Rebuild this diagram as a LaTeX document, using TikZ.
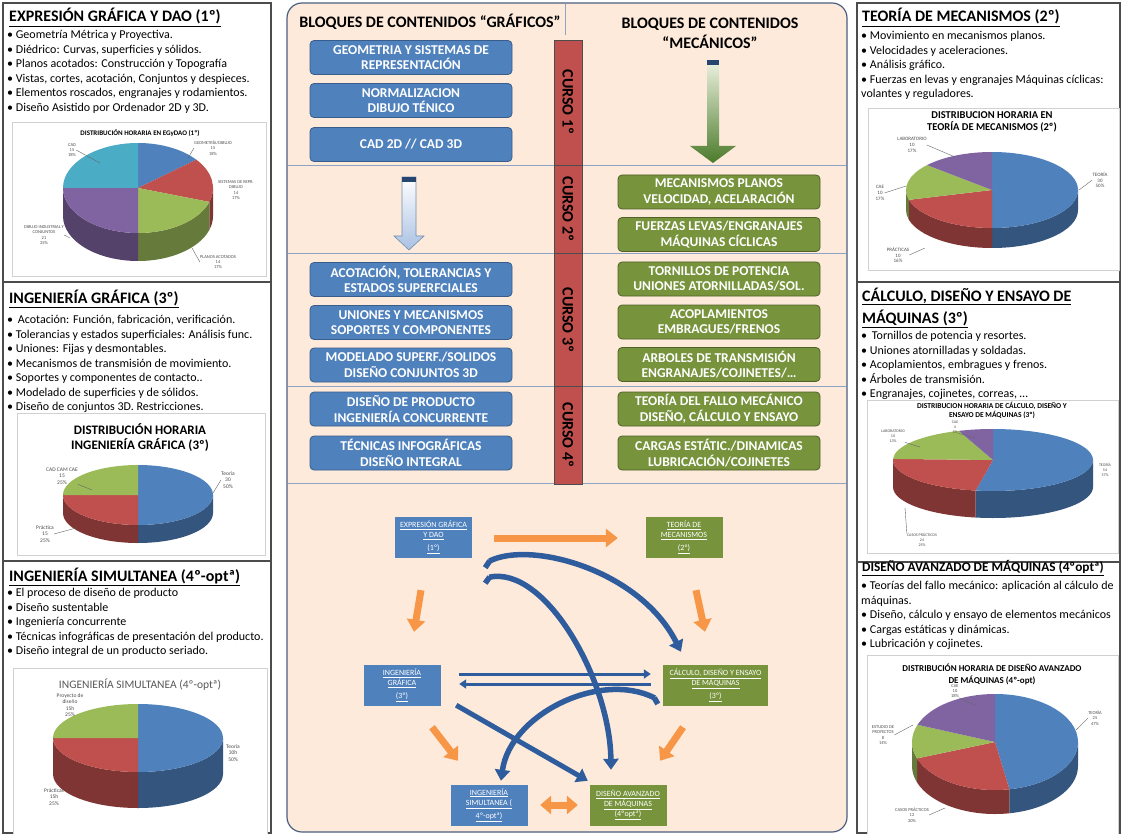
\documentclass[tikz,border=0pt]{standalone}
\usepackage{fontspec}
\setmainfont{Carlito}
\usetikzlibrary{arrows.meta}
\definecolor{gblue}{HTML}{4F81BD}
\definecolor{gblueb}{HTML}{385D8A}
\definecolor{ggreen}{HTML}{77933C}
\definecolor{ggreenb}{HTML}{4F6228}
\definecolor{peach}{HTML}{FDEADA}
\definecolor{pblue}{HTML}{4F81BD}
\definecolor{pred}{HTML}{C0504D}
\definecolor{pgreen}{HTML}{9BBB59}
\definecolor{ppurple}{HTML}{8064A2}
\definecolor{pcyan}{HTML}{4BACC6}
\definecolor{orng}{HTML}{F79646}
\definecolor{arrblue}{HTML}{2F5C9C}
\definecolor{divline}{HTML}{8FA4C4}
\definecolor{cborder}{HTML}{4A5F80}
\definecolor{barred}{HTML}{C0504D}
\definecolor{darkgreenarr}{HTML}{4B7A2A}
\definecolor{lightgreenarr}{HTML}{EEF3E2}
\definecolor{lightbluearr}{HTML}{A9C1E2}
\definecolor{capblue}{HTML}{27466F}

\newcommand{\pwall}[8]{%
  \pgfmathsetmacro{\pwa}{max(#6,0)}%
  \pgfmathsetmacro{\pwb}{min(#7,180)}%
  \ifdim\pwb pt>\pwa pt\relax
    \fill[fill=#8!66!black] ([shift={(#1,#2)}]\pwa:#3 and #4) arc[start angle=\pwa, end angle=\pwb, x radius=#3, y radius=#4] -- ++(0,#5) arc[start angle=\pwb, end angle=\pwa, x radius=#3, y radius=#4] -- cycle;
  \fi}
\newcommand{\ptop}[8]{%
  \fill[fill=#8] (#1,#2) -- ([shift={(#1,#2)}]#6:#3 and #4) arc[start angle=#6, end angle=#7, x radius=#3, y radius=#4] -- cycle;}
\newcommand{\drawpie}[6]{%
  \foreach \sa/\sb/\sc in {#6}{\pwall{#1}{#2}{#3}{#4}{#5}{\sa}{\sb}{\sc}}%
  \foreach \sa/\sb/\sc in {#6}{\ptop{#1}{#2}{#3}{#4}{#5}{\sa}{\sb}{\sc}}}

\begin{document}
\begin{tikzpicture}[x=1pt,y=-1pt,
  panel/.style={draw=black!70, line width=1.2pt},
  chartbox/.style={draw=black!18, fill=white, line width=0.6pt},
  ttl/.style={font=\fontsize{16}{22}\selectfont\bfseries, inner sep=0pt, anchor=base west},
  body/.style={font=\fontsize{12}{14.5}\selectfont, inner sep=0pt, anchor=north west, align=left},
  mbox/.style={rounded corners=4pt, line width=0.8pt, text=white, font=\fontsize{13.5}{15.7}\selectfont\bfseries, align=center, minimum width=202pt, minimum height=34pt, inner sep=0pt},
  bbox/.style={mbox, fill=gblue, draw=gblueb},
  gbox/.style={mbox, fill=ggreen, draw=ggreenb},
  fbox/.style={text=white, font=\fontsize{8}{10}\selectfont, align=center, minimum height=41pt, inner sep=0pt, minimum width=77pt},
  fblue/.style={fbox, fill=gblue},
  fgreen/.style={fbox, fill=ggreen},
  oarr/.style={orng, line width=7pt, -{Triangle[width=18pt,length=12pt]}},
  barr/.style={arrblue, line width=5.5pt, -{Triangle[width=15pt,length=11pt]}},
  btail/.style={arrblue, line width=5.5pt},
  plab/.style={text=black!70, align=center, inner sep=0pt},
  lead/.style={black!60, line width=0.4pt},
  ctitle/.style={align=center, inner sep=0pt},
  curso/.style={rotate=-90, font=\fontsize{16}{16}\selectfont\bfseries, inner sep=0pt},
]
\useasboundingbox (0,0) rectangle (1121,834);
\fill[white] (0,0) rectangle (1121,834);

% ================= LEFT COLUMN =================
\draw[panel] (3,3) rectangle (271,282);
\draw[panel] (3,282) rectangle (271,561);
\draw[panel] (3,561) rectangle (271,833);

\node[ttl] (t1) at (9,22) {\underline{EXPRESIÓN GRÁFICA Y DAO (1º)}};
\node[body] (b1) at (7,28.5) {\rule{0pt}{10pt}• Geometría Métrica y Proyectiva.\\• Diédrico: Curvas, superficies y sólidos.\\• Planos acotados: Construcción y Topografía\\• Vistas, cortes, acotación, Conjuntos y despieces.\\• Elementos roscados, engranajes y rodamientos.\\• Diseño Asistido por Ordenador 2D y 3D.};

\draw[chartbox] (12,122) rectangle (266,276);
\node[ctitle, font=\fontsize{7}{8}\selectfont\bfseries] (c1t) at (140,133) {DISTRIBUCIÓN HORARIA EN EGyDAO (1º)};
\drawpie{138}{188}{75}{45}{28}{-90/-39/pblue,-39/18/pred,18/90/pgreen,90/180/ppurple,180/270/pcyan}
\node[plab, font=\fontsize{4.5}{5.2}\selectfont] (l11) at (72,150) {CAD\\15\\18\%};
\node[plab, font=\fontsize{4.5}{5.2}\selectfont] (l12) at (213,148) {GEOMETRÍA/DIBUJO\\15\\18\%};
\node[plab, font=\fontsize{4.5}{5.2}\selectfont] (l13) at (236,190) {SISTEMAS DE REPR.\\DIBUJO\\14\\17\%};
\node[plab, font=\fontsize{4.5}{5.2}\selectfont] (l14) at (218,262) {PLANOS ACOTADOS\\14\\17\%};
\node[plab, font=\fontsize{4.5}{5.2}\selectfont] (l15) at (44,235) {DIBUJO INDUSTRIAL Y\\CONJUNTOS\\21\\25\%};
\draw[lead] (l11.east) -- (100,163);
\draw[lead] (l12.west) -- (188,158);
\draw[lead] (l14.west) -- (192,248);
\draw[lead] (l15.east) -- (70,238);

\node[ttl] (t2) at (9,303) {\underline{INGENIERÍA GRÁFICA (3º)}};
\node[body] (b2) at (7,313.5) {\rule{0pt}{10pt}•\, Acotación: Función, fabricación, verificación.\\• Tolerancias y estados superficiales: Análisis func.\\• Uniones: Fijas y desmontables.\\• Mecanismos de transmisión de movimiento.\\• Soportes y componentes de contacto..\\• Modelado de superficies y de sólidos.\\• Diseño de conjuntos 3D. Restricciones.};

\draw[chartbox] (17,413) rectangle (265,555);
\node[ctitle, font=\fontsize{13}{15}\selectfont\bfseries] (c2t) at (140,438) {DISTRIBUCIÓN HORARIA\\INGENIERÍA GRÁFICA (3º)};
\drawpie{138}{495}{75}{30}{18}{-90/90/pblue,90/180/pred,180/270/pgreen}
\node[plab, font=\fontsize{5.5}{6.3}\selectfont] (l21) at (228,480) {Teoría\\30\\50\%};
\node[plab, font=\fontsize{5.5}{6.3}\selectfont] (l22) at (62,476) {CAD CAM CAE\\15\\25\%};
\node[plab, font=\fontsize{5.5}{6.3}\selectfont] (l23) at (45,534) {Práctica\\15\\25\%};
\draw[lead] (l21.west) -- (213,493);
\draw[lead] (l22.south east) -- (92,490);
\draw[lead] (l23.east) -- (76,528);

\node[ttl] (t3) at (9,581) {\underline{INGENIERÍA SIMULTANEA (4º-optª)}};
\node[body] (b3) at (7,586.5) {\rule{0pt}{10pt}• El proceso de diseño de producto\\• Diseño sustentable\\• Ingeniería concurrente\\• Técnicas infográficas de presentación del producto.\\• Diseño integral de un producto seriado.};

\draw[chartbox] (13,668) rectangle (267,834);
\node[ctitle, font=\fontsize{11.5}{13}\selectfont, text=black!65] (c3t) at (140,685) {INGENIERÍA SIMULTANEA (4º-optª)};
\drawpie{138}{738}{85}{34}{36}{-90/90/pblue,90/180/pred,180/270/pgreen}
\node[plab, font=\fontsize{5.5}{6.3}\selectfont] (l31) at (70,705) {Proyecto de\\diseño\\15h\\25\%};
\node[plab, font=\fontsize{5.5}{6.3}\selectfont] (l32) at (233,753) {Teoría\\30h\\50\%};
\node[plab, font=\fontsize{5.5}{6.3}\selectfont] (l33) at (54,797) {Prácticas\\15h\\25\%};

% ================= CENTRE =================
\draw[cborder, fill=peach, line width=1.2pt, rounded corners=15pt] (287,3) rectangle (847,832);
\foreach \yy in {165,253,386,483} \draw[divline, line width=0.9pt] (288,\yy) -- (846,\yy);
\draw[divline, line width=0.9pt] (565,4) -- (565,35);

\node[font=\fontsize{16}{20}\selectfont\bfseries, inner sep=0pt] (h1) at (430,22) {BLOQUES DE CONTENIDOS “GRÁFICOS”};
\node[font=\fontsize{16}{20}\selectfont\bfseries, inner sep=0pt, align=center] (h2) at (710,33) {BLOQUES DE CONTENIDOS\\“MECÁNICOS”};

% course bar
\draw[fill=barred, draw=black!70, line width=0.8pt] (554,40) rectangle (582,165);
\draw[fill=barred, draw=black!70, line width=0.8pt] (554,165) rectangle (582,253);
\draw[fill=barred, draw=black!70, line width=0.8pt] (554,253) rectangle (582,386);
\draw[fill=barred, draw=black!70, line width=0.8pt] (554,386) rectangle (582,484);
\node[curso] (k1) at (568,102) {CURSO 1º};
\node[curso] (k2) at (568,209) {CURSO 2º};
\node[curso] (k3) at (568,320) {CURSO 3º};
\node[curso] (k4) at (568,435) {CURSO 4º};

% blue content boxes
\node[bbox] (g1) at (411,57.5) {GEOMETRIA Y SISTEMAS DE\\REPRESENTACIÓN};
\node[bbox] (g2) at (411,100.5) {NORMALIZACION\\DIBUJO TÉNICO};
\node[bbox] (g3) at (411,144.5) {CAD 2D // CAD 3D};
\node[bbox] (g4) at (411,279.5) {ACOTACIÓN, TOLERANCIAS Y\\ESTADOS SUPERFCIALES};
\node[bbox] (g5) at (411,322.5) {UNIONES Y MECANISMOS\\SOPORTES Y COMPONENTES};
\node[bbox] (g6) at (411,365) {MODELADO SUPERF./SOLIDOS\\DISEÑO CONJUNTOS 3D};
\node[bbox] (g7) at (411,409) {DISEÑO DE PRODUCTO\\INGENIERÍA CONCURRENTE};
\node[bbox] (g8) at (411,453) {TÉCNICAS INFOGRÁFICAS\\DISEÑO INTEGRAL};

% green content boxes
\node[gbox] (m1) at (719,192) {MECANISMOS PLANOS\\VELOCIDAD, ACELARACIÓN};
\node[gbox] (m2) at (719,234.5) {FUERZAS LEVAS/ENGRANAJES\\MÁQUINAS CÍCLICAS};
\node[gbox] (m3) at (719,279) {TORNILLOS DE POTENCIA\\UNIONES ATORNILLADAS/SOL.};
\node[gbox] (m4) at (719,322) {ACOPLAMIENTOS\\EMBRAGUES/FRENOS};
\node[gbox] (m5) at (719,364.5) {ARBOLES DE TRANSMISIÓN\\ENGRANAJES/COJINETES/…};
\node[gbox] (m6) at (719,409) {TEORÍA DEL FALLO MECÁNICO\\DISEÑO, CÁLCULO Y ENSAYO};
\node[gbox] (m7) at (719,453) {CARGAS ESTÁTIC./DINAMICAS\\LUBRICACIÓN/COJINETES};

% block arrows in course rows
\shade[top color=lightgreenarr, bottom color=darkgreenarr] (707,60) -- (719,60) -- (719,146) -- (736,146) -- (713,163) -- (690,146) -- (707,146) -- cycle;
\fill[capblue] (707,60) rectangle (719,65);
\shade[top color=white, bottom color=lightbluearr, draw=gblueb!70, line width=0.6pt] (402,177) -- (416,177) -- (416,236) -- (424,236) -- (409,250) -- (394,236) -- (402,236) -- cycle;
\fill[capblue] (402,177) rectangle (416,182);

% flow boxes
\node[fblue] (f1) at (433.5,537) {\underline{EXPRESIÓN GRÁFICA}\\\underline{Y DAO}\\[3pt]\underline{(1º)}};
\node[fgreen] (f2) at (684,537) {\underline{TEORÍA DE}\\\underline{MECANISMOS}\\[3pt]\underline{(2º)}};
\node[fblue] (f3) at (402,685.5) {\underline{INGENIERÍA}\\\underline{GRÁFICA}\\[3pt]\underline{(3º)}};
\node[fgreen, minimum width=105pt] (f4) at (715.5,685.5) {\underline{CÁLCULO, DISEÑO Y ENSAYO}\\\underline{DE MÁQUINAS}\\[3pt]\underline{(3º)}};
\node[fblue] (f5) at (489,805) {\underline{INGENIERÍA}\\\underline{SIMULTANEA (}\\[3pt]\underline{4º-optª)}};
\node[fgreen] (f6) at (628,805) {\underline{DISEÑO AVANZADO}\\\underline{DE MÁQUINAS}\\\underline{(4ºoptª)}};

% orange arrows
\draw[oarr] ([shift={(22,1)}]f1.east) -- ([shift={(-27.5,1)}]f2.west);
\draw[oarr] ([shift={(-12.5,32.5)}]f1.south) -- ([shift={(12,-33)}]f3.north);
\draw[oarr] ([shift={(12,32.5)}]f2.south) -- ([shift={(-10.5,-33)}]f4.north);
\draw[oarr] ([shift={(30,21)}]f3.south) -- ([shift={(-31,-23.5)}]f5.north);
\draw[oarr] ([shift={(-32.5,21)}]f4.south) -- ([shift={(32,-23.5)}]f6.north);
\draw[orng, line width=7pt, {Triangle[width=18pt,length=11pt]}-{Triangle[width=18pt,length=11pt]}] ([shift={(12.5,0)}]f5.east) -- ([shift={(-11.5,0)}]f6.west);

% blue arrows
\draw[barr] ([shift={(17,3.5)}]f1.south east) .. controls +(41,-21) and +(-41,-82) .. ([shift={(-34.5,-13)}]f4.north);
\draw[btail] ([shift={(17.5,3.2)}]f1.south east) -- ([shift={(13,10)}]f1.south east);
\draw[barr] ([shift={(17,19.5)}]f1.south east) .. controls +(56,-12) and +(-1,-90) .. ([shift={(-17,-14.5)}]f6.north);
\draw[btail] ([shift={(17.5,19.3)}]f1.south east) -- ([shift={(13,25.5)}]f1.south east);
\draw[arrblue, line width=3pt, -{Triangle[width=9pt,length=7pt]}] ([shift={(18.5,-11.5)}]f3.east) -- ([shift={(-12,-11.5)}]f4.west);
\draw[arrblue, line width=3pt, -{Triangle[width=9pt,length=7pt]}] ([shift={(-12,-1.5)}]f4.west) -- ([shift={(18.5,-1.5)}]f3.east);
\draw[barr, line width=5pt] ([shift={(15.5,-1)}]f3.south east) -- ([shift={(-1.5,-3.5)}]f6.north west);
\draw[barr] ([shift={(-8,12.5)}]f4.west) .. controls +(-55,-28) and +(9,-66) .. ([shift={(12,-3.5)}]f5.north);
\draw[btail] ([shift={(-8.5,12.3)}]f4.west) -- ([shift={(-5,18.5)}]f4.west);

% ================= RIGHT COLUMN =================
\draw[panel] (857,3) rectangle (1120,282);
\draw[panel] (857,282) rectangle (1120,562);
\draw[panel] (857,562) rectangle (1120,833);

\node[ttl] (rt1) at (862,22) {\underline{TEORÍA DE MECANISMOS (2º)}};
\node[body] (rb1) at (861,29.5) {\rule{0pt}{10pt}• Movimiento en mecanismos planos.\\• Velocidades y aceleraciones.\\• Análisis gráfico.\\• Fuerzas en levas y engranajes Máquinas cíclicas:\\volantes y reguladores.};

\draw[chartbox] (868,108) rectangle (1119,270);
\node[ctitle, font=\fontsize{10.5}{12}\selectfont\bfseries] (c4t) at (992,122) {DISTRIBUCION HORARIA EN\\TEORÍA DE MECANISMOS (2º)};
\drawpie{992}{190}{86}{38}{20}{-90/90/pblue,90/165/pred,165/221/pgreen,221/270/ppurple}
\node[plab, font=\fontsize{5}{5.8}\selectfont] (l41) at (912,145) {LABORATORIO\\10\\17\%};
\node[plab, font=\fontsize{5}{5.8}\selectfont] (l42) at (880,193) {CAE\\10\\17\%};
\node[plab, font=\fontsize{5}{5.8}\selectfont] (l43) at (1100,180) {TEORÍA\\30\\50\%};
\node[plab, font=\fontsize{5}{5.8}\selectfont] (l44) at (898,255) {PRÁCTICAS\\10\\16\%};
\draw[lead] (l41.east) -- (955,157);
\draw[lead] (l42.east) -- (906,186);
\draw[lead] (l43.west) -- (1079,190);
\draw[lead] (l44.east) -- (925,248);

\node[ttl] (rt2a) at (862,301) {\underline{CÁLCULO, DISEÑO Y ENSAYO DE}};
\node[ttl] (rt2b) at (862,323) {\underline{MÁQUINAS (3º)}};
\node[body] (rb2) at (861,329.5) {\rule{0pt}{10pt}•\, Tornillos de potencia y resortes.\\• Uniones atornilladas y soldadas.\\• Acoplamientos, embragues y frenos.\\• Árboles de transmisión.\\• Engranajes, cojinetes, correas, …};

\draw[chartbox] (867,400) rectangle (1118,553);
\node[ctitle, font=\fontsize{7.5}{9}\selectfont\bfseries] (c5t) at (992,410) {DISTRIBUCION HORARIA DE CÁLCULO, DISEÑO Y\\ENSAYO DE MÁQUINAS (3º)};
\drawpie{993}{460}{100}{31}{27}{-90/100/pblue,100/182/pred,182/250/pgreen,250/270/ppurple}
\node[plab, font=\fontsize{4}{4.8}\selectfont] (l51) at (893,436) {LABORATORIO\\10\\13\%};
\node[plab, font=\fontsize{4}{4.8}\selectfont] (l52) at (955,427) {CAE\\4\\5\%};
\node[plab, font=\fontsize{4}{4.8}\selectfont] (l53) at (1105,470) {TEORÍA\\54\\57\%};
\node[plab, font=\fontsize{4}{4.8}\selectfont] (l54) at (922,540) {CASOS PRÁCTICOS\\24\\25\%};
\draw[lead] (l51.south east) -- (920,447);
\draw[lead] (l52.south east) -- (975,438);
\draw[lead] (l54.north west) -- (905,508);

\node[ttl, font=\fontsize{13.3}{17}\selectfont\bfseries] (rt3) at (862,571.5) {\underline{DISEÑO AVANZADO DE MÁQUINAS (4ºoptª)}};
\node[body] (rb3) at (861,579.5) {\rule{0pt}{10pt}• Teorías del fallo mecánico: aplicación al cálculo de\\máquinas.\\• Diseño, cálculo y ensayo de elementos mecánicos\\• Cargas estáticas y dinámicas.\\• Lubricación y cojinetes.};

\draw[chartbox] (867,655) rectangle (1118,834);
\node[ctitle, font=\fontsize{9}{12.5}\selectfont\bfseries] (c6t) at (992,674.5) {DISTRIBUCIÓN HORARIA DE DISEÑO AVANZADO\\DE MÁQUINAS (4º-opt)};
\drawpie{995}{742}{83}{48}{24}{-90/80/pblue,80/160/pred,160/201/pgreen,201/270/ppurple}
\node[plab, font=\fontsize{4.5}{5.2}\selectfont] (l61) at (955,691) {CAE\\10\\18\%};
\node[plab, font=\fontsize{4.5}{5.2}\selectfont] (l62) at (883,735) {ESTUDIO DE\\PROYECTOS\\8\\14\%};
\node[plab, font=\fontsize{4.5}{5.2}\selectfont] (l63) at (1095,718) {TEORÍA\\25\\47\%};
\node[plab, font=\fontsize{4.5}{5.2}\selectfont] (l64) at (912,815) {CASOS PRÁCTICOS\\12\\20\%};
\draw[lead] (l61.south east) -- (975,705);
\draw[lead] (l62.east) -- (913,725);
\draw[lead] (l63.west) -- (1076,730);
\draw[lead] (l64.east) -- (945,808);
\end{tikzpicture}
\end{document}
